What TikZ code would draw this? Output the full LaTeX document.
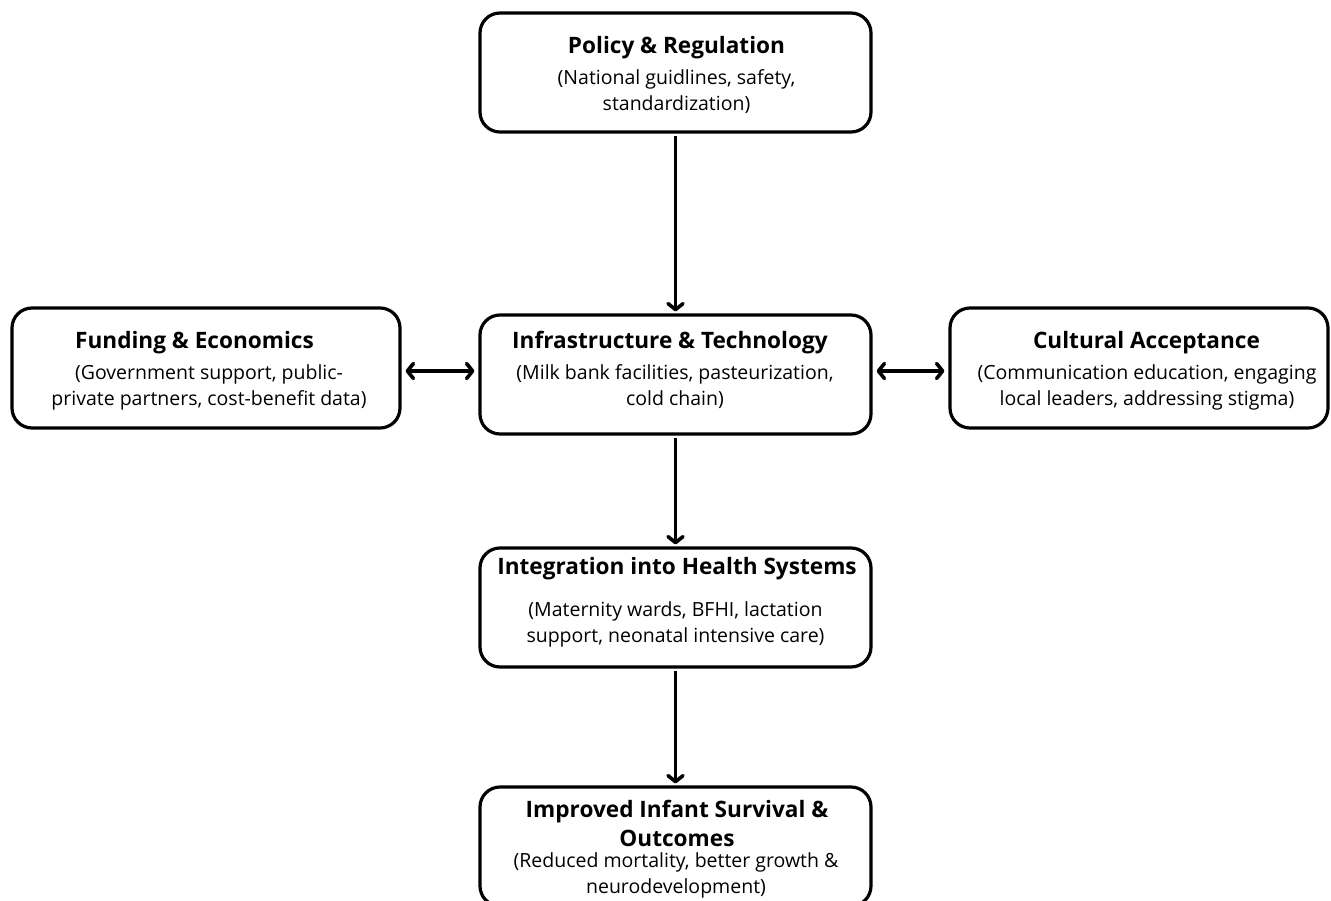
\documentclass[tikz,border=0pt]{standalone}
\usepackage{fontspec}
\setmainfont{Open Sans}
\usetikzlibrary{arrows.meta}
\tikzset{
  box/.style={draw=black, line width=3.2pt, rounded corners=20pt, fill=white, rectangle, inner sep=0pt},
  ttl/.style={font=\fontsize{22.6}{29}\selectfont\bfseries, align=center, inner sep=0pt},
  sub/.style={font=\fontsize{19.5}{26}\selectfont, align=center, inner sep=0pt},
  arr/.style={line width=3.6pt, -{Straight Barb[length=6pt,width=15pt,line cap=round,line join=round]}, shorten >=2pt, shorten <=2pt},
  darr/.style={line width=3.6pt, {Straight Barb[length=6pt,width=15pt,line cap=round,line join=round]}-{Straight Barb[length=6pt,width=15pt,line cap=round,line join=round]}, shorten >=4pt, shorten <=4pt}
}
\begin{document}
\begin{tikzpicture}[x=1pt,y=-1pt]
\useasboundingbox (0,0) rectangle (1331,901);
\fill[white] (0,0) rectangle (1331,901);
% boxes
\node[box, minimum width=391pt, minimum height=119pt] (pol) at (675.5,72.5) {};
\node[box, minimum width=388pt, minimum height=120pt] (fund) at (206,368) {};
\node[box, minimum width=391pt, minimum height=119pt] (infra) at (675.5,374.5) {};
\node[box, minimum width=378pt, minimum height=120pt] (cult) at (1139,368) {};
\node[box, minimum width=391pt, minimum height=119pt] (integ) at (675.5,607.5) {};
\node[box, minimum width=391pt, minimum height=119pt] (outc) at (675.5,846.5) {};
% texts
\node[ttl] (polT) at (676.5,47.5) {Policy \& Regulation};
\node[sub] (polS) at (676.5,91.5) {(National guidlines, safety,\\standardization)};
\node[ttl] (fundT) at (194.5,342.5) {Funding \& Economics};
\node[sub] (fundS) at (209,387) {(Government support, public-\\private partners, cost-benefit data)};
\node[ttl] (infraT) at (670,342.5) {Infrastructure \& Technology};
\node[sub] (infraS) at (675,387) {(Milk bank facilities, pasteurization,\\cold chain)};
\node[ttl] (cultT) at (1146.5,342.5) {Cultural Acceptance};
\node[sub] (cultS) at (1147,387) {(Communication education, engaging\\local leaders, addressing stigma)};
\node[ttl] (integT) at (677,568.5) {Integration into Health Systems};
\node[sub] (integS) at (675.5,624.5) {(Maternity wards, BFHI, lactation\\support, neonatal intensive care)};
\node[ttl] (outcT) at (677,823) {Improved Infant Survival \&\\Outcomes};
\node[sub] (outcS) at (676,875) {(Reduced mortality, better growth \&\\neurodevelopment)};
% connectors
\draw[arr] (pol.south) -- (infra.north);
\draw[arr] (infra.south) -- (integ.north);
\draw[arr] (integ.south) -- (outc.north);
\draw[darr] ([yshift=-3pt]fund.east) -- ([yshift=3.5pt]infra.west);
\draw[darr] ([yshift=3.5pt]infra.east) -- ([yshift=-3pt]cult.west);
\end{tikzpicture}
\end{document}
